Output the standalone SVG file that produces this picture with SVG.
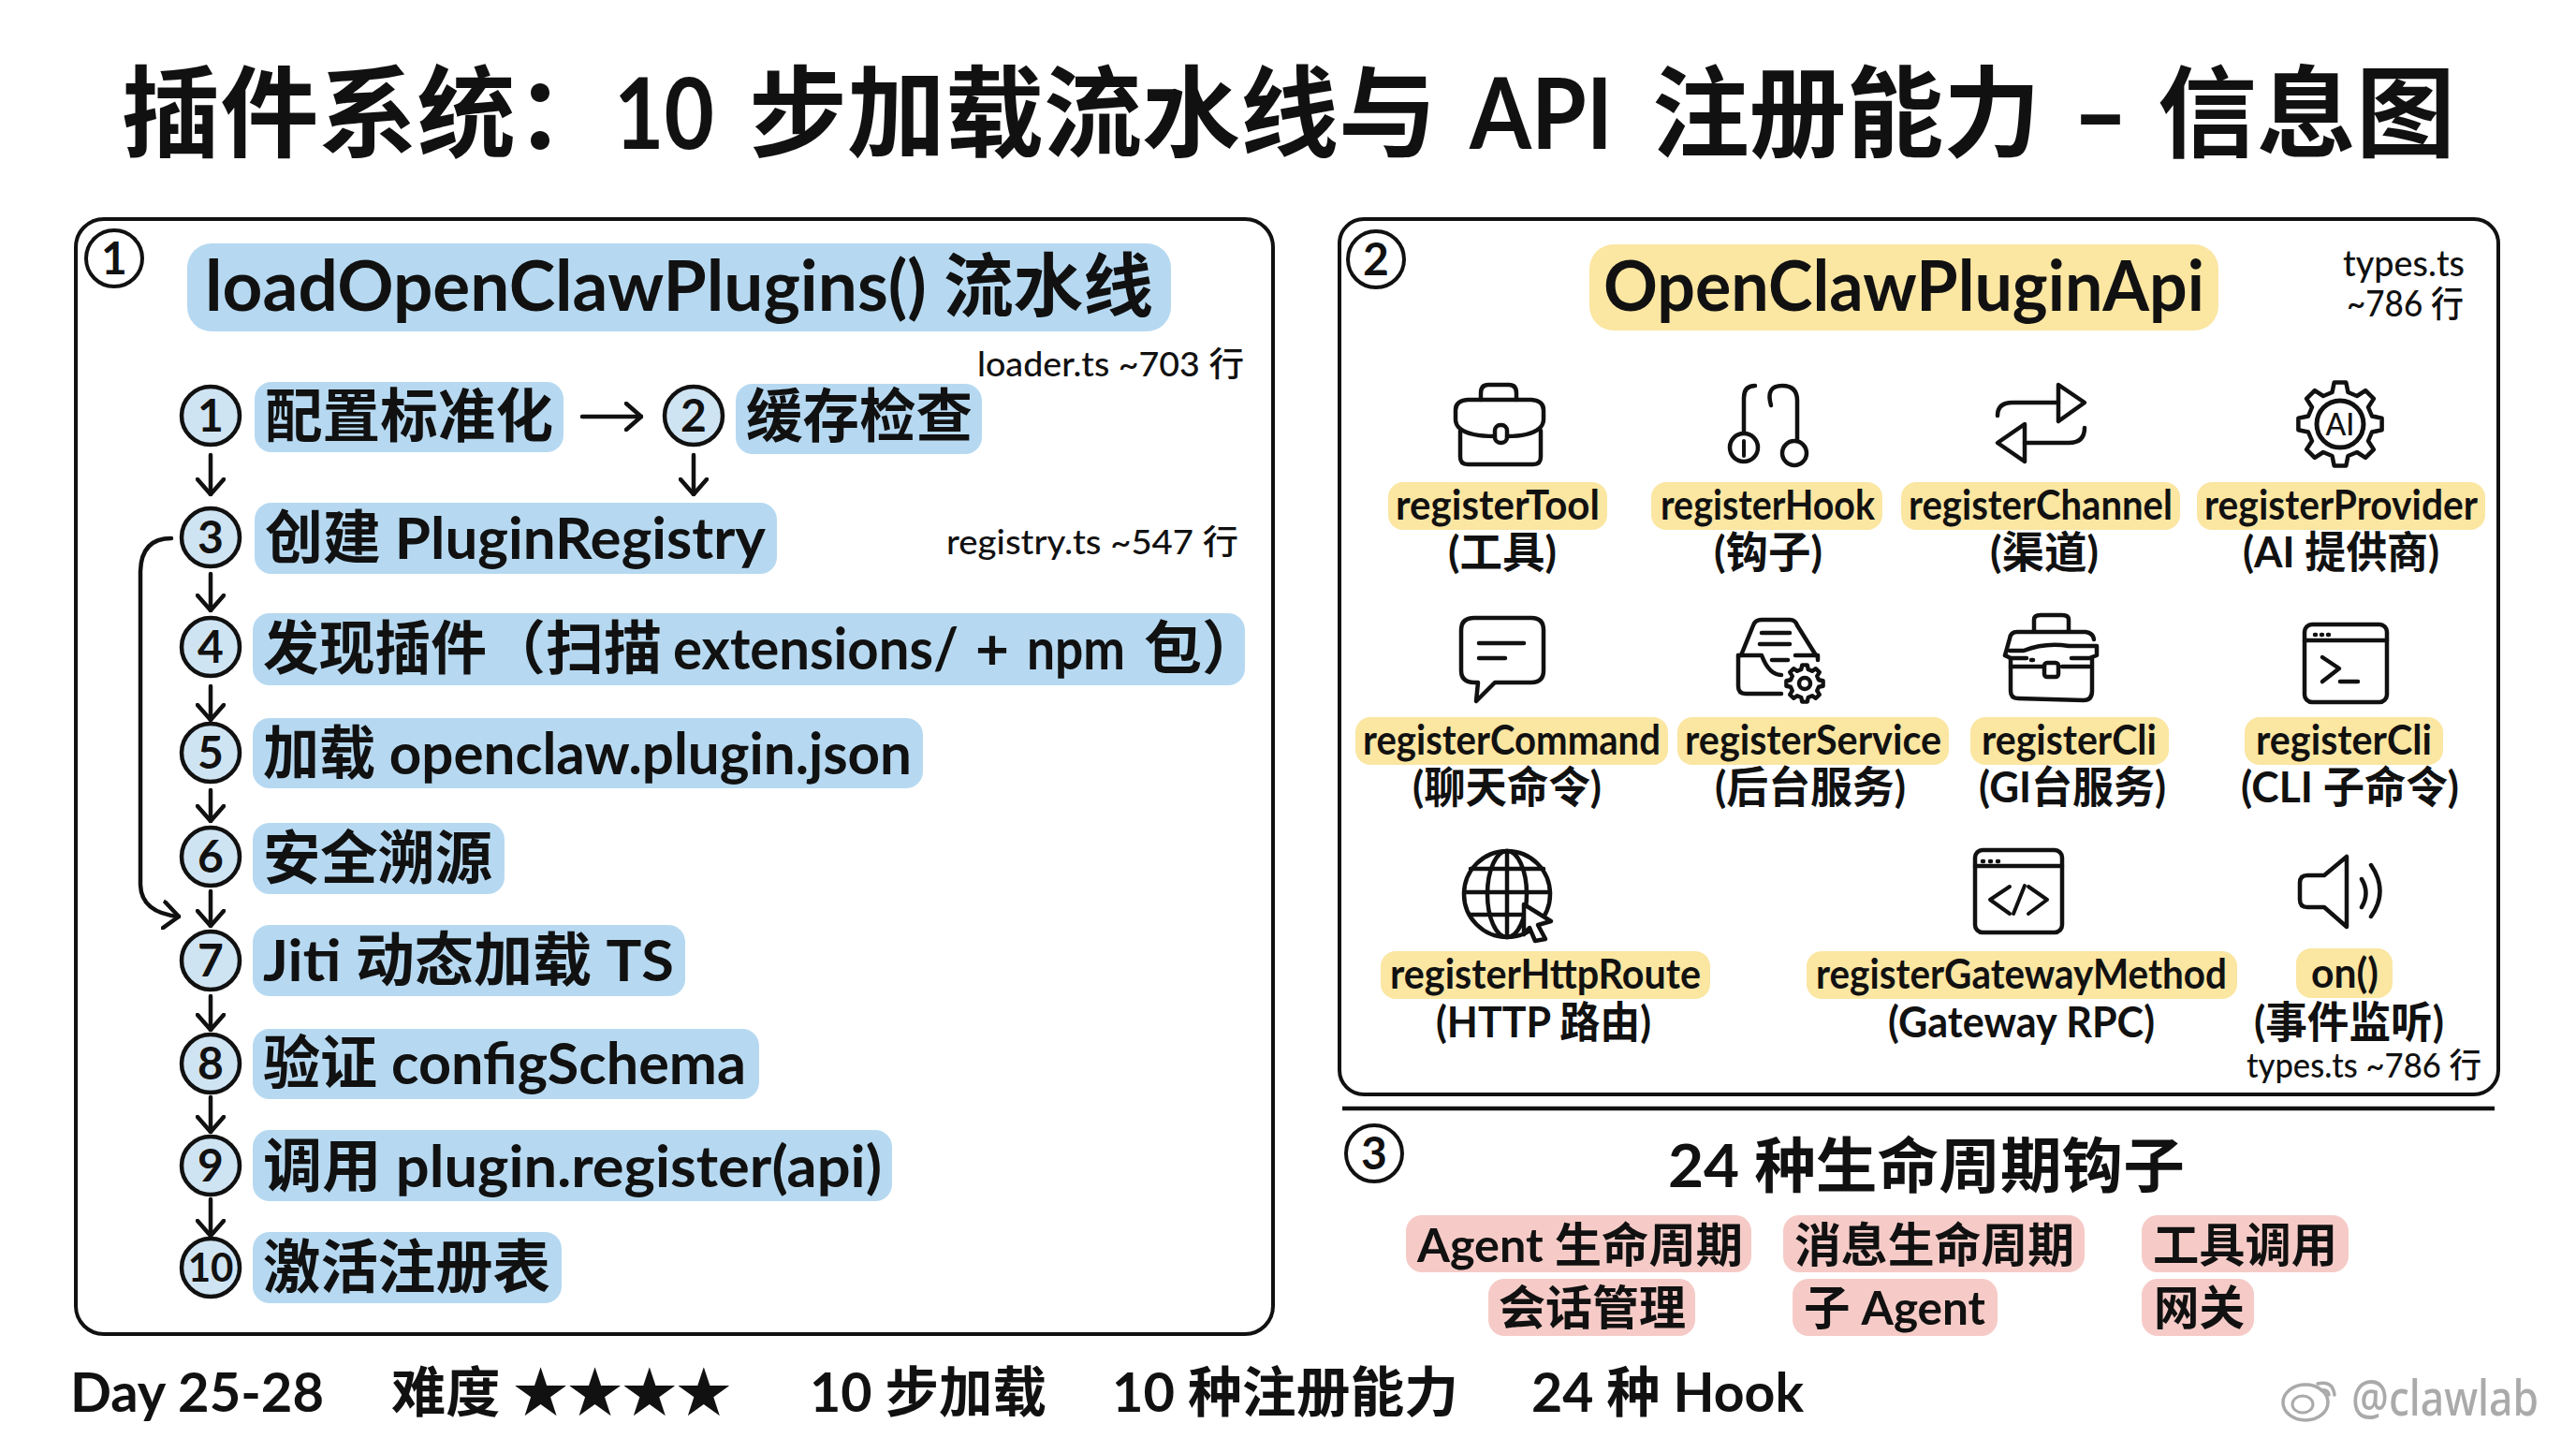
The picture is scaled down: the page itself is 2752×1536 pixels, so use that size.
<svg xmlns="http://www.w3.org/2000/svg" width="2752" height="1536" viewBox="0 0 2752 1536">
<style>
text{font-family:"Lato","Noto Sans CJK SC",sans-serif;font-weight:700;fill:#111}
.panel{fill:#fff;stroke:#111;stroke-width:4}
.mark{fill:none;stroke:#111;stroke-width:4}
.blue{fill:#b6d9f1}.yellow{fill:#fbe6a2}.pink{fill:#f6cbc7}
.stepc{fill:#cfe4f3;stroke:#111;stroke-width:4.5}
.conn{fill:none;stroke:#111;stroke-width:4.5;stroke-linecap:round;stroke-linejoin:round}
.ico{fill:none;stroke:#111;stroke-width:4.5;stroke-linecap:round;stroke-linejoin:round}
.num{font-size:48px;text-anchor:middle}
.step{font-size:62px}
.api{font-size:44px}
.sub{font-size:46px}
.note{font-size:36px;font-weight:500}
.hook{font-size:50px}
.foot{font-size:58px}
</style>
<defs>
<marker id="ah" viewBox="0 0 20 32" refX="18" refY="16" markerWidth="20" markerHeight="32" markerUnits="userSpaceOnUse" orient="auto"><path d="M2 2L18 16L2 30" fill="none" stroke="#111" stroke-width="4.5" stroke-linecap="round" stroke-linejoin="round"/></marker>
<path id="gear" d="M34 -8.5L44.6 -6.3L44.6 6.3L34 8.5L30 18L35.9 27.1L27.1 35.9L18 30L8.5 34L6.3 44.6L-6.3 44.6L-8.5 34L-18 30L-27.1 35.9L-35.9 27.1L-30 18L-34 8.5L-44.6 6.3L-44.6 -6.3L-34 -8.5L-30 -18L-35.9 -27.1L-27.1 -35.9L-18 -30L-8.5 -34L-6.3 -44.6L6.3 -44.6L8.5 -34L18 -30L27.1 -35.9L35.9 -27.1L30 -18Z"/>
</defs>
<rect width="2752" height="1536" fill="#fff"/>
<text id="title" y="159" font-size="106"><tspan x="130" textLength="526" lengthAdjust="spacingAndGlyphs">插件系统：</tspan><tspan x="656" textLength="107" lengthAdjust="spacingAndGlyphs">10</tspan> <tspan x="800" textLength="735" lengthAdjust="spacingAndGlyphs">步加载流水线与</tspan> <tspan x="1570" textLength="153" lengthAdjust="spacingAndGlyphs">API</tspan> <tspan x="1765" textLength="415" lengthAdjust="spacingAndGlyphs">注册能力</tspan> <tspan x="2214" textLength="60" lengthAdjust="spacingAndGlyphs">-</tspan> <tspan x="2305" textLength="318" lengthAdjust="spacingAndGlyphs">信息图</tspan></text>

<g id="panel1"><rect class="panel" x="81" y="234" width="1279" height="1191" rx="30"/><circle class="mark" cx="122" cy="276" r="30"/><text class="num" x="122" y="293">1</text>
<rect class="blue" x="200" y="260" width="1051" height="94" rx="26"/><text x="219" y="332" font-size="74" textLength="1013" lengthAdjust="spacingAndGlyphs">loadOpenClawPlugins() 流水线</text>
<text class="note" x="1044" y="402" textLength="285" lengthAdjust="spacingAndGlyphs">loader.ts ~703 行</text>
<text class="note" x="1011" y="592" textLength="312" lengthAdjust="spacingAndGlyphs">registry.ts ~547 行</text></g>

<g id="connectors">
<path class="conn" d="M622 445H685" marker-end="url(#ah)"/>
<path class="conn" d="M225 486V528" marker-end="url(#ah)"/>
<path class="conn" d="M741 486V528" marker-end="url(#ah)"/>
<path class="conn" d="M225 613V652" marker-end="url(#ah)"/>
<path class="conn" d="M225 733V769" marker-end="url(#ah)"/>
<path class="conn" d="M225 844V877" marker-end="url(#ah)"/>
<path class="conn" d="M225 952V989" marker-end="url(#ah)"/>
<path class="conn" d="M225 1064V1100" marker-end="url(#ah)"/>
<path class="conn" d="M225 1172V1209" marker-end="url(#ah)"/>
<path class="conn" d="M225 1281V1320" marker-end="url(#ah)"/>
<path class="conn" d="M183 575Q151 575 150 610V945Q151 975 191 979" marker-end="url(#ah)"/>
</g>

<g id="step1"><rect class="blue" x="272" y="408" width="330" height="75" rx="18"/><circle class="stepc" cx="225" cy="444" r="31"/><text class="num" x="225" y="461">1</text><text class="step" x="283" y="467" textLength="308" lengthAdjust="spacingAndGlyphs">配置标准化</text></g>
<g id="step2"><rect class="blue" x="786" y="410" width="263" height="75" rx="18"/><circle class="stepc" cx="741" cy="444" r="31"/><text class="num" x="741" y="461">2</text><text class="step" x="797" y="467" textLength="242" lengthAdjust="spacingAndGlyphs">缓存检查</text></g>
<g id="step3"><rect class="blue" x="272" y="537" width="558" height="76" rx="18"/><circle class="stepc" cx="225" cy="574" r="31"/><text class="num" x="225" y="591">3</text><text class="step" x="283" y="597" textLength="535" lengthAdjust="spacingAndGlyphs">创建 PluginRegistry</text></g>
<g id="step4"><rect class="blue" x="270" y="655" width="1060" height="77" rx="18"/><circle class="stepc" cx="225" cy="691" r="31"/><text class="num" x="225" y="708">4</text><text class="step" y="715"><tspan x="281" textLength="239" lengthAdjust="spacingAndGlyphs">发现插件</tspan><tspan x="521">（扫描</tspan> <tspan x="719" textLength="305" lengthAdjust="spacingAndGlyphs">extensions/</tspan> <tspan x="1042">+</tspan> <tspan x="1097" textLength="105" lengthAdjust="spacingAndGlyphs">npm</tspan> <tspan x="1222">包）</tspan></text></g>
<g id="step5"><rect class="blue" x="270" y="767" width="716" height="75" rx="18"/><circle class="stepc" cx="225" cy="804" r="31"/><text class="num" x="225" y="821">5</text><text class="step" x="281" y="827" textLength="693" lengthAdjust="spacingAndGlyphs">加载 openclaw.plugin.json</text></g>
<g id="step6"><rect class="blue" x="270" y="879" width="269" height="76" rx="18"/><circle class="stepc" cx="225" cy="915" r="31"/><text class="num" x="225" y="932">6</text><text class="step" x="281" y="939" textLength="245" lengthAdjust="spacingAndGlyphs">安全溯源</text></g>
<g id="step7"><rect class="blue" x="270" y="988" width="462" height="76" rx="18"/><circle class="stepc" cx="225" cy="1026" r="31"/><text class="num" x="225" y="1043">7</text><text class="step" x="281" y="1048" textLength="439" lengthAdjust="spacingAndGlyphs">Jiti 动态加载 TS</text></g>
<g id="step8"><rect class="blue" x="270" y="1099" width="541" height="75" rx="18"/><circle class="stepc" cx="225" cy="1136" r="31"/><text class="num" x="225" y="1153">8</text><text class="step" x="281" y="1158" textLength="516" lengthAdjust="spacingAndGlyphs">验证 configSchema</text></g>
<g id="step9"><rect class="blue" x="270" y="1207" width="683" height="76" rx="18"/><circle class="stepc" cx="225" cy="1245" r="31"/><text class="num" x="225" y="1262">9</text><text class="step" x="281" y="1268" textLength="661" lengthAdjust="spacingAndGlyphs">调用 plugin.register(api)</text></g>
<g id="step10"><rect class="blue" x="270" y="1316" width="330" height="76" rx="18"/><circle class="stepc" cx="225" cy="1354" r="31"/><text class="num" x="225" y="1369" style="font-size:42px">10</text><text class="step" x="281" y="1376" textLength="307" lengthAdjust="spacingAndGlyphs">激活注册表</text></g>

<g id="panel2"><rect class="panel" x="1431" y="234" width="1238" height="935" rx="26"/><circle class="mark" cx="1470" cy="277" r="30"/><text class="num" x="1470" y="294">2</text>
<rect class="yellow" x="1698" y="261" width="672" height="92" rx="26"/><text x="1713" y="332" font-size="74" textLength="642" lengthAdjust="spacingAndGlyphs">OpenClawPluginApi</text>
<text class="note" x="2503" y="295" style="font-size:38px" textLength="130" lengthAdjust="spacingAndGlyphs">types.ts</text>
<text class="note" x="2507" y="338" style="font-size:38px" textLength="125" lengthAdjust="spacingAndGlyphs">~786 行</text>
<text class="note" x="2400" y="1151" textLength="251" lengthAdjust="spacingAndGlyphs">types.ts ~786 行</text></g>

<g id="registerTool"><g class="ico"><path d="M1582 427V420Q1582 411 1590 411H1612Q1620 411 1620 420V427"/><path d="M1560 460V488Q1560 496 1568 496H1638Q1646 496 1646 488V460"/><path d="M1597 466Q1570 466 1560 458Q1555 454 1555 448V438Q1555 428 1568 427H1636Q1649 428 1649 438V448Q1649 454 1644 458Q1634 466 1610 466"/><rect x="1597" y="454" width="13" height="19" rx="6"/></g>
<rect class="yellow" x="1483" y="515" width="234" height="51" rx="16"/><text class="api" x="1491" y="555" textLength="218" lengthAdjust="spacingAndGlyphs">registerTool</text><text class="sub" x="1547" y="606" textLength="116" lengthAdjust="spacingAndGlyphs">(工具)</text></g>
<g id="registerHook"><g class="ico"><path d="M1875 412Q1863 412 1863 425V462"/><ellipse cx="1863" cy="478" rx="15" ry="15"/><path d="M1863 471V487" stroke-width="4"/><path d="M1892 433Q1886 412 1904 412Q1920 412 1920 428V469"/><circle cx="1917" cy="484" r="13"/></g>
<rect class="yellow" x="1764" y="515" width="247" height="51" rx="16"/><text class="api" x="1774" y="555" textLength="229" lengthAdjust="spacingAndGlyphs">registerHook</text><text class="sub" x="1831" y="606" textLength="116" lengthAdjust="spacingAndGlyphs">(钩子)</text></g>
<g id="registerChannel"><g class="ico"><path d="M2134 444Q2134 430 2150 430H2199"/><path d="M2199 411L2227 430L2199 450Z"/><path d="M2227 457Q2227 473 2210 473H2163"/><path d="M2163 453L2134 473L2163 493Z"/></g>
<rect class="yellow" x="2031" y="515" width="298" height="51" rx="16"/><text class="api" x="2039" y="555" textLength="282" lengthAdjust="spacingAndGlyphs">registerChannel</text><text class="sub" x="2126" y="606" textLength="116" lengthAdjust="spacingAndGlyphs">(渠道)</text></g>
<g id="registerProvider"><g class="ico"><use href="#gear" transform="translate(2500 453)"/><circle cx="2500" cy="453" r="25" stroke-width="5"/></g><text x="2500" y="465" font-size="32" text-anchor="middle" style="font-weight:500">AI</text>
<rect class="yellow" x="2347" y="515" width="308" height="51" rx="16"/><text class="api" x="2355" y="555" textLength="292" lengthAdjust="spacingAndGlyphs">registerProvider</text><text class="sub" x="2396" y="606" textLength="210" lengthAdjust="spacingAndGlyphs">(AI 提供商)</text></g>

<g id="registerCommand"><g class="ico"><path d="M1575 660H1636Q1649 660 1649 673V716Q1649 729 1636 729H1597L1577 749L1579 729H1575Q1561 729 1561 716V673Q1561 660 1575 660Z"/><path d="M1580 687H1628M1580 703H1608"/></g>
<rect class="yellow" x="1448" y="766" width="334" height="51" rx="16"/><text class="api" x="1456" y="806" textLength="318" lengthAdjust="spacingAndGlyphs">registerCommand</text><text class="sub" x="1509" y="857" textLength="202" lengthAdjust="spacingAndGlyphs">(聊天命令)</text></g>
<g id="registerService"><g class="ico"><path d="M1860 700L1873 668Q1875 662 1882 662H1912Q1918 662 1920 668L1940 700"/><path d="M1882 676H1912M1880 688H1912"/><path d="M1857 700H1882Q1890 721 1903 721"/><path d="M1893 705H1910"/><path d="M1918 700H1942V705"/><path d="M1857 700V733Q1857 741 1865 741H1903"/><use href="#gear" transform="translate(1928 730) scale(.44)" fill="#fff" stroke-width="10"/><circle cx="1928" cy="730" r="6"/></g>
<rect class="yellow" x="1792" y="766" width="290" height="51" rx="16"/><text class="api" x="1800" y="806" textLength="274" lengthAdjust="spacingAndGlyphs">registerService</text><text class="sub" x="1832" y="857" textLength="204" lengthAdjust="spacingAndGlyphs">(后台服务)</text></g>
<g id="registerCli1"><g class="ico"><path d="M2173 673V662Q2173 657 2180 657H2203Q2210 657 2210 662V673"/><path d="M2142 700L2147 682Q2148 675 2155 675H2228Q2236 676 2237 683"/><path d="M2142 700L2148 703H2165M2147 695L2162 695Q2185 686 2210 690H2240V700L2232 703H2213"/><path d="M2148 703V738Q2148 746 2156 746L2226 748Q2235 748 2235 738V703"/><path d="M2148 712H2184M2203 712H2232"/><path d="M2170 705H2172"/><rect x="2184" y="708" width="15" height="15" rx="3"/></g>
<rect class="yellow" x="2105" y="766" width="212" height="51" rx="16"/><text class="api" x="2117" y="806" textLength="187" lengthAdjust="spacingAndGlyphs">registerCli</text><text class="sub" x="2114" y="857" textLength="200" lengthAdjust="spacingAndGlyphs">(GI台服务)</text></g>
<g id="registerCli2"><g class="ico"><rect x="2462" y="667" width="88" height="83" rx="8"/><path d="M2462 684H2550"/><path d="M2473 678H2474M2480 678H2481M2487 678H2488"/><path d="M2481 702L2499 714L2481 728M2500 728H2519"/></g>
<rect class="yellow" x="2398" y="766" width="212" height="51" rx="16"/><text class="api" x="2410" y="806" textLength="188" lengthAdjust="spacingAndGlyphs">registerCli</text><text class="sub" x="2394" y="857" textLength="233" lengthAdjust="spacingAndGlyphs">(CLI 子命令)</text></g>

<g id="registerHttpRoute"><g class="ico"><circle cx="1610" cy="955" r="46"/><ellipse cx="1610" cy="955" rx="21" ry="46"/><path d="M1610 909V1001M1571 928H1649M1564 953H1656M1571 977H1628"/><path d="M1628 966L1657 984L1643 988L1651 1003L1640 1005L1634 991L1628 998Z" fill="#fff"/></g>
<rect class="yellow" x="1475" y="1016" width="352" height="51" rx="16"/><text class="api" x="1485" y="1056" textLength="332" lengthAdjust="spacingAndGlyphs">registerHttpRoute</text><text class="sub" x="1534" y="1108" textLength="230" lengthAdjust="spacingAndGlyphs">(HTTP 路由)</text></g>
<g id="registerGatewayMethod"><g class="ico"><rect x="2110" y="908" width="93" height="88" rx="8"/><path d="M2110 925H2203"/><path d="M2118 920H2119M2126 920H2127M2134 920H2135"/><path d="M2147 947L2126 961L2147 976M2167 947L2187 961L2167 976M2163 946L2151 976" stroke-width="4"/></g>
<rect class="yellow" x="1930" y="1016" width="460" height="51" rx="16"/><text class="api" x="1940" y="1056" textLength="439" lengthAdjust="spacingAndGlyphs">registerGatewayMethod</text><text class="sub" x="2017" y="1108" textLength="285" lengthAdjust="spacingAndGlyphs">(Gateway RPC)</text></g>
<g id="on"><g class="ico"><path d="M2507 915V990L2483 969H2465Q2457 969 2457 961V943Q2457 935 2465 935H2483Z"/><path d="M2523 939Q2532 954 2523 969M2533 924Q2552 952 2533 979"/></g>
<rect class="yellow" x="2453" y="1013" width="103" height="53" rx="16"/><text class="api" x="2469" y="1055" textLength="72" lengthAdjust="spacingAndGlyphs">on()</text><text class="sub" x="2408" y="1108" textLength="203" lengthAdjust="spacingAndGlyphs">(事件监听)</text></g>

<g id="section3"><path d="M1434 1184H2665" stroke="#111" stroke-width="4.5"/><circle class="mark" cx="1468" cy="1232" r="30"/><text class="num" x="1468" y="1249">3</text>
<text x="1782" y="1268" font-size="64" textLength="552" lengthAdjust="spacingAndGlyphs">24 种生命周期钩子</text></g>
<g id="hook1"><rect class="pink" x="1502" y="1298" width="369" height="61" rx="17"/><text class="hook" x="1514" y="1348" textLength="348" lengthAdjust="spacingAndGlyphs">Agent 生命周期</text></g>
<g id="hook2"><rect class="pink" x="1905" y="1298" width="322" height="61" rx="17"/><text class="hook" x="1917" y="1348" textLength="299" lengthAdjust="spacingAndGlyphs">消息生命周期</text></g>
<g id="hook3"><rect class="pink" x="2288" y="1298" width="221" height="61" rx="17"/><text class="hook" x="2300" y="1348" textLength="197" lengthAdjust="spacingAndGlyphs">工具调用</text></g>
<g id="hook4"><rect class="pink" x="1590" y="1366" width="221" height="61" rx="17"/><text class="hook" x="1601" y="1415" textLength="200" lengthAdjust="spacingAndGlyphs">会话管理</text></g>
<g id="hook5"><rect class="pink" x="1915" y="1366" width="219" height="61" rx="17"/><text class="hook" x="1927" y="1415" textLength="194" lengthAdjust="spacingAndGlyphs">子 Agent</text></g>
<g id="hook6"><rect class="pink" x="2288" y="1366" width="120" height="61" rx="17"/><text class="hook" x="2301" y="1415" textLength="97" lengthAdjust="spacingAndGlyphs">网关</text></g>

<g id="footer">
<text class="foot" x="75" y="1508" textLength="271" lengthAdjust="spacingAndGlyphs">Day 25-28</text>
<text class="foot" x="418" y="1508" textLength="363" lengthAdjust="spacingAndGlyphs">难度 ★★★★</text>
<text class="foot" x="865" y="1508" textLength="253" lengthAdjust="spacingAndGlyphs">10 步加载</text>
<text class="foot" x="1188" y="1508" textLength="370" lengthAdjust="spacingAndGlyphs">10 种注册能力</text>
<text class="foot" x="1636" y="1508" textLength="291" lengthAdjust="spacingAndGlyphs">24 种 Hook</text>
</g>
<g id="watermark"><ellipse cx="2463" cy="1498" rx="24" ry="19" fill="none" stroke="#aaa" stroke-width="3.5"/><ellipse cx="2460" cy="1500" rx="11" ry="9" fill="none" stroke="#aaa" stroke-width="3"/><path d="M2476 1478Q2492 1474 2494 1490M2480 1485Q2487 1484 2488 1490" fill="none" stroke="#aaa" stroke-width="3.5" stroke-linecap="round"/>
<text x="2512" y="1512" font-size="52" textLength="200" lengthAdjust="spacingAndGlyphs" style="fill:#aaa;font-weight:500;font-family:'Noto Sans',sans-serif">@clawlab</text></g>
</svg>
